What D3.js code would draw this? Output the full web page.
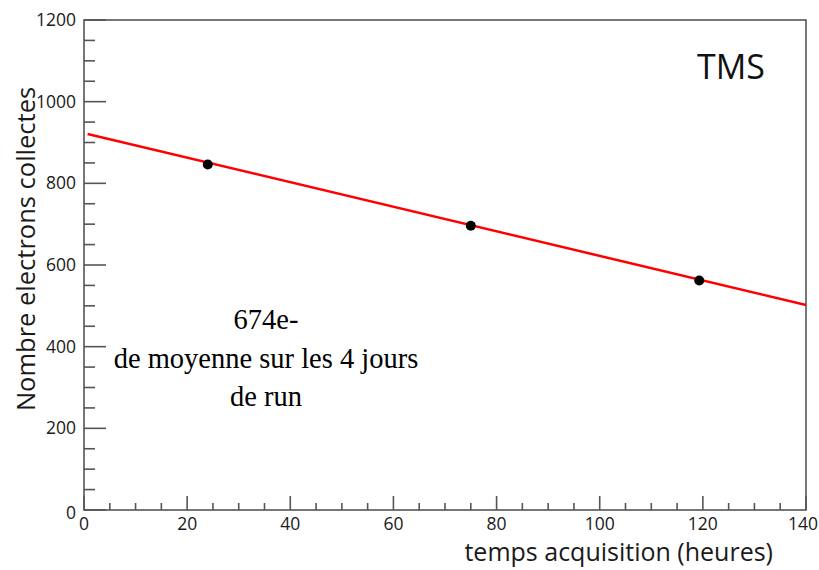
<!DOCTYPE html>
<html><head><meta charset="utf-8">
<script src="https://cdn.jsdelivr.net/npm/d3@7"></script>
<style>body{margin:0;background:#fff}svg{display:block}</style>
</head><body><svg id="c" width="819" height="570"></svg>
<script>
const hours = [24, 75, 119.3];
const electrons = [846, 696, 562];
const fitX = [0.7, 140];
const fitY = [921, 502];
const xTicks = [0, 20, 40, 60, 80, 100, 120, 140];
const yTicks = [0, 200, 400, 600, 800, 1000, 1200];
const noteLines = ["674e-", "de moyenne sur les 4 jours", "de run"];

const svg = d3.select("#c");
const L = 84, R = 806, T = 20, B = 510;
const x = d3.scaleLinear().domain([0, 140]).range([L, R]);
const y = d3.scaleLinear().domain([0, 1200]).range([B, T]);
const axisCol = "#555";
const sans = "'Open Sans', sans-serif";

// frame
svg.append("rect").attr("x", L).attr("y", T).attr("width", R - L).attr("height", B - T)
  .attr("fill", "none").attr("stroke", axisCol).attr("stroke-width", 1.6);

// y ticks
const yMinor = d3.range(0, 1201, 50);
svg.append("g").selectAll("line").data(yMinor).join("line")
  .attr("x1", L).attr("x2", d => L + (d % 200 === 0 ? 22 : 11))
  .attr("y1", d => y(d)).attr("y2", d => y(d))
  .attr("stroke", axisCol).attr("stroke-width", 1.6);
svg.append("g").selectAll("text").data(yTicks).join("text")
  .attr("x", 76).attr("y", d => y(d) + (d === 0 ? 9 : 6))
  .attr("text-anchor", "end").attr("font-family", sans).attr("font-size", 17.5)
  .attr("fill", "#1a1a1a").text(d => d);

// x ticks
const xMinor = d3.range(0, 141, 5);
svg.append("g").selectAll("line").data(xMinor).join("line")
  .attr("x1", d => x(d)).attr("x2", d => x(d))
  .attr("y1", B).attr("y2", d => B - (d % 20 === 0 ? 14 : 7))
  .attr("stroke", axisCol).attr("stroke-width", 1.6);
svg.append("g").selectAll("text").data(xTicks).join("text")
  .attr("x", d => d === 140 ? 818 : x(d)).attr("y", 530)
  .attr("text-anchor", d => d === 140 ? "end" : "middle")
  .attr("font-family", sans).attr("font-size", 17.5)
  .attr("fill", "#1a1a1a").text(d => d);

// axis titles
svg.append("text").attr("x", 773).attr("y", 561).attr("text-anchor", "end")
  .attr("font-family", sans).attr("font-size", 25).attr("fill", "#1a1a1a")
  .text("temps acquisition (heures)");
svg.append("text").attr("transform", "translate(35,249) rotate(-90)")
  .attr("text-anchor", "middle").attr("font-family", sans).attr("font-size", 25.5)
  .attr("fill", "#1a1a1a").text("Nombre electrons collectes");

// fit line
const line = d3.line().x(d => x(d[0])).y(d => y(d[1]));
svg.append("path").datum(d3.zip(fitX, fitY)).attr("d", line)
  .attr("fill", "none").attr("stroke", "#ff0000").attr("stroke-width", 2.5);

// points
svg.append("g").selectAll("circle").data(d3.zip(hours, electrons)).join("circle")
  .attr("cx", d => x(d[0])).attr("cy", d => y(d[1])).attr("r", 5).attr("fill", "#000");

// TMS label
svg.append("text").attr("x", 731).attr("y", 79).attr("text-anchor", "middle")
  .attr("font-family", sans).attr("font-size", 34).attr("fill", "#111").text("TMS");

// note
svg.append("g").selectAll("text").data(noteLines).join("text")
  .attr("x", 266).attr("y", (d, i) => 329 + i * 38.5).attr("text-anchor", "middle")
  .attr("font-family", "'Liberation Serif', 'Times New Roman', serif").attr("font-size", 28.5)
  .attr("fill", "#000").text(d => d);
</script></body></html>
